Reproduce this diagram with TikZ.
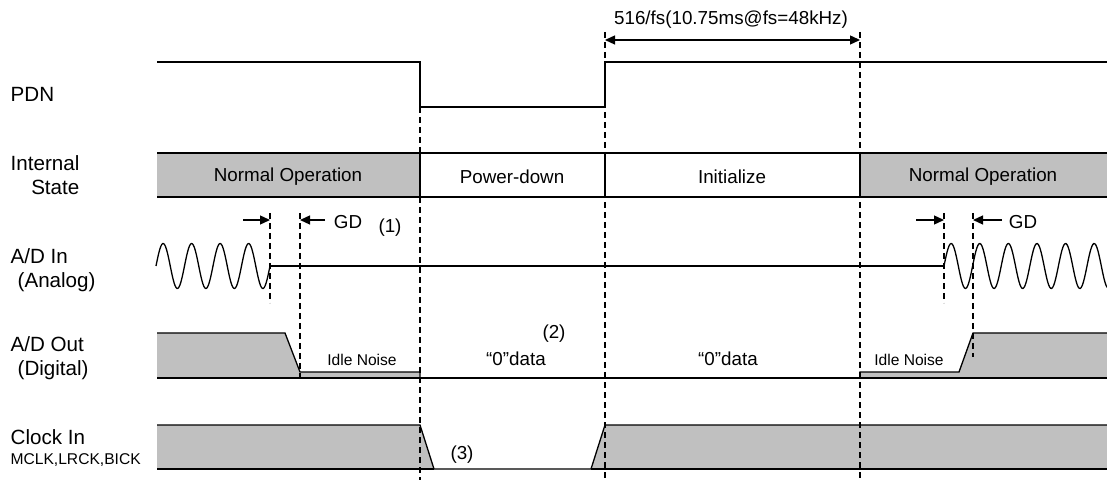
\documentclass[tikz,border=0pt]{standalone}
\usepackage{fontspec}
\setmainfont{Liberation Sans}
\usetikzlibrary{arrows.meta}
\definecolor{stategray}{HTML}{C0C0C0}
\begin{document}
\begin{tikzpicture}[x=0.5pt, y=-0.5pt, line width=0.65pt,
   lbl/.style={font=\fontsize{10.3}{12}\selectfont, inner sep=0pt, anchor=west, align=left},
   cell/.style={font=\fontsize{9.4}{11}\selectfont, inner sep=0pt},
   tiny/.style={font=\fontsize{7.8}{9}\selectfont, inner sep=0pt},
   edge/.style={dash pattern=on 3pt off 2pt},
   tip/.style={-{Triangle[length=5pt,width=4.5pt]}}]
   \useasboundingbox (0,0) rectangle (1107,480);
   % time marks
   \coordinate (t1) at (420,0);
   \coordinate (t2) at (605,0);
   \coordinate (t3) at (860,0);
   % gray areas
   \fill[stategray] (157,153) rectangle (420,197);
   \fill[stategray] (860,153) rectangle (1107,197);
   \fill[stategray] (157,378) -- (157,333) -- (285,333) -- (300,372) -- (420,372) -- (420,378) -- cycle;
   \fill[stategray] (860,378) -- (860,372) -- (959,372) -- (973,333) -- (1107,333) -- (1107,378) -- cycle;
   \fill[stategray] (157,469) -- (157,425) -- (420,425) -- (434,469) -- cycle;
   \fill[stategray] (591,469) -- (605,425) -- (1107,425) -- (1107,469) -- cycle;
   % dashed edges
   \draw[edge] (t1 |- 0,107) -- (t1 |- 0,480);
   \draw[edge] (t2 |- 0,32) -- (t2 |- 0,480);
   \draw[edge] (t3 |- 0,32) -- (t3 |- 0,480);
   \draw[edge] (270,213) -- (270,303);
   \draw[edge] (300,213) -- (300,380);
   \draw[edge] (944,213) -- (944,303);
   \draw[edge] (973,213) -- (973,357);
   % PDN
   \draw (157,62) -- (420,62) -- (420,107) -- (605,107) -- (605,62) -- (1107,62);
   \draw[{Triangle[length=5pt,width=4.5pt]}-{Triangle[length=5pt,width=4.5pt]}] (605,40) -- (860,40);
   \node[cell] (tinit) at (731,20) {516/fs(10.75ms@fs=48kHz)};
   % internal state
   \draw (157,153) -- (1107,153);
   \draw (157,197) -- (1107,197);
   \draw (420,153) -- (420,197);
   \draw (605,153) -- (605,197);
   \draw (860,153) -- (860,197);
   \node[cell] (s1) at (288,177) {Normal Operation};
   \node[cell] (s2) at (512,177) {Power-down};
   \node[cell] (s3) at (732,177) {Initialize};
   \node[cell] (s4) at (983,177) {Normal Operation};
   % A/D in
   \draw plot[domain=156:270, samples=120] (\x, {266-22.5*sin(12.632*(\x-156))});
   \draw (270,266) -- (944,266);
   \draw plot[domain=944:1107, samples=160] (\x, {266-22.5*sin(12.587*(\x-944))});
   \draw[tip] (243,220) -- (270,220);
   \draw[tip] (325,220) -- (300,220);
   \draw[tip] (916,220) -- (944,220);
   \draw[tip] (1002,220) -- (973,220);
   \node[cell] (gd1) at (348,222) {GD};
   \node[cell] (n1) at (390,228) {(1)};
   \node[cell] (gd2) at (1023,222) {GD};
   % A/D out
   \draw (157,333) -- (285,333) -- (300,372) -- (420,372) -- (420,378);
   \draw (157,378) -- (1107,378);
   \draw (860,378) -- (860,372) -- (959,372) -- (973,333) -- (1107,333);
   \node[tiny] (idle1) at (362,360) {Idle Noise};
   \node[tiny] (idle2) at (909,360) {Idle Noise};
   \node[cell] (n2) at (554,334) {(2)};
   \node[cell] (z1) at (516,359) {“0”data};
   \node[cell] (z2) at (728,359) {“0”data};
   % clock in
   \draw (157,425) -- (420,425) -- (434,469) -- (591,469) -- (605,425) -- (1107,425);
   \draw (157,469) -- (434,469);
   \draw (591,469) -- (1107,469);
   \node[cell] (n3) at (462,455) {(3)};
   % row labels
   \node[lbl] (pdn) at (10,94) {PDN};
   \node[lbl, align=right, anchor=east] (state) at (80,175) {Internal\\State};
   \node[lbl] (adin) at (10,270) {A/D In\\\hspace{3.5pt}(Analog)};
   \node[lbl] (adout) at (10,358) {A/D Out\\\hspace{3.5pt}(Digital)};
   \node[lbl] (clk) at (10,437) {Clock In};
   \node[tiny, anchor=west] (clks) at (10,460) {MCLK,LRCK,BICK};
\end{tikzpicture}
\end{document}
